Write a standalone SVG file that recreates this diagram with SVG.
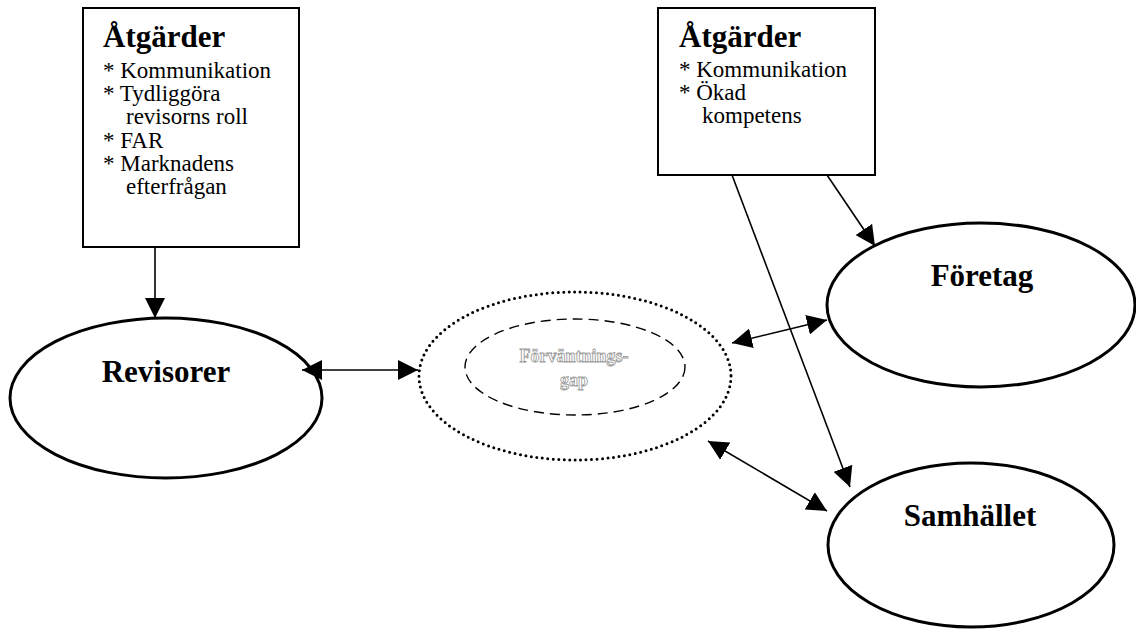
<svg xmlns="http://www.w3.org/2000/svg" width="1136" height="632" viewBox="0 0 1136 632">
<defs>
<marker id="ah" viewBox="0 0 10 10" refX="10" refY="5" markerWidth="20" markerHeight="20" markerUnits="userSpaceOnUse" orient="auto-start-reverse">
<path d="M0,0 L10,5 L0,10 Z" fill="#000"/>
</marker>
</defs>
<style>
.box{fill:#fff;stroke:#000;stroke-width:2}
.ell{fill:#fff;stroke:#000;stroke-width:3}
.head{font-family:"Liberation Serif",serif;font-weight:bold;font-size:31px;fill:#000}
.item{font-family:"Liberation Serif",serif;font-size:23px;fill:#000}
.con{stroke:#000;stroke-width:1.6;fill:none}
.gap{font-family:"Liberation Serif",serif;font-weight:bold;font-size:18px;fill:#fff;stroke:#999;stroke-width:0.8;text-anchor:middle}
</style>
<rect width="1136" height="632" fill="#fff"/>
<g id="atgarder-revisorer">
<rect class="box" x="83" y="8" width="216" height="239"/>
<text class="head" x="103" y="47" font-size="32">Åtgärder</text>
<text class="item" x="103" y="78">* Kommunikation</text>
<text class="item" x="103" y="101">* Tydliggöra</text>
<text class="item" x="126" y="124">revisorns roll</text>
<text class="item" x="103" y="148">* FAR</text>
<text class="item" x="103" y="171">* Marknadens</text>
<text class="item" x="126" y="194">efterfrågan</text>
</g>
<g id="atgarder-foretag">
<rect class="box" x="658" y="8" width="217" height="167"/>
<text class="head" x="679" y="47" font-size="32">Åtgärder</text>
<text class="item" x="679" y="77">* Kommunikation</text>
<text class="item" x="679" y="100">* Ökad</text>
<text class="item" x="702" y="123">kompetens</text>
</g>
<g id="revisorer">
<ellipse class="ell" cx="166" cy="398" rx="156" ry="80"/>
<text class="head" x="166" y="382" text-anchor="middle">Revisorer</text>
</g>
<g id="forvantningsgap">
<ellipse cx="575" cy="376" rx="156" ry="84" fill="none" stroke="#000" stroke-width="3" stroke-dasharray="0 5.5" stroke-linecap="round"/>
<ellipse cx="575" cy="367" rx="110" ry="48" fill="none" stroke="#000" stroke-width="1.4" stroke-dasharray="10 6"/>
<text class="gap" x="574" y="362">Förväntnings-</text>
<text class="gap" x="574" y="386">gap</text>
</g>
<g id="foretag">
<ellipse class="ell" cx="981" cy="305" rx="154" ry="82"/>
<text class="head" x="982" y="286" text-anchor="middle">Företag</text>
</g>
<g id="samhallet">
<ellipse class="ell" cx="971" cy="545" rx="143" ry="82"/>
<text class="head" x="970" y="526" text-anchor="middle">Samhället</text>
</g>
<g id="connectors">
<line class="con" x1="155" y1="247" x2="155" y2="318" marker-end="url(#ah)"/>
<line class="con" x1="302" y1="370" x2="418" y2="370" marker-start="url(#ah)" marker-end="url(#ah)"/>
<line class="con" x1="732" y1="343" x2="827" y2="320" marker-start="url(#ah)" marker-end="url(#ah)"/>
<line class="con" x1="708" y1="441" x2="827" y2="511" marker-start="url(#ah)" marker-end="url(#ah)"/>
<line class="con" x1="732" y1="175" x2="850" y2="487" marker-end="url(#ah)"/>
<line class="con" x1="827" y1="175" x2="875" y2="246" marker-end="url(#ah)"/>
</g>
</svg>
